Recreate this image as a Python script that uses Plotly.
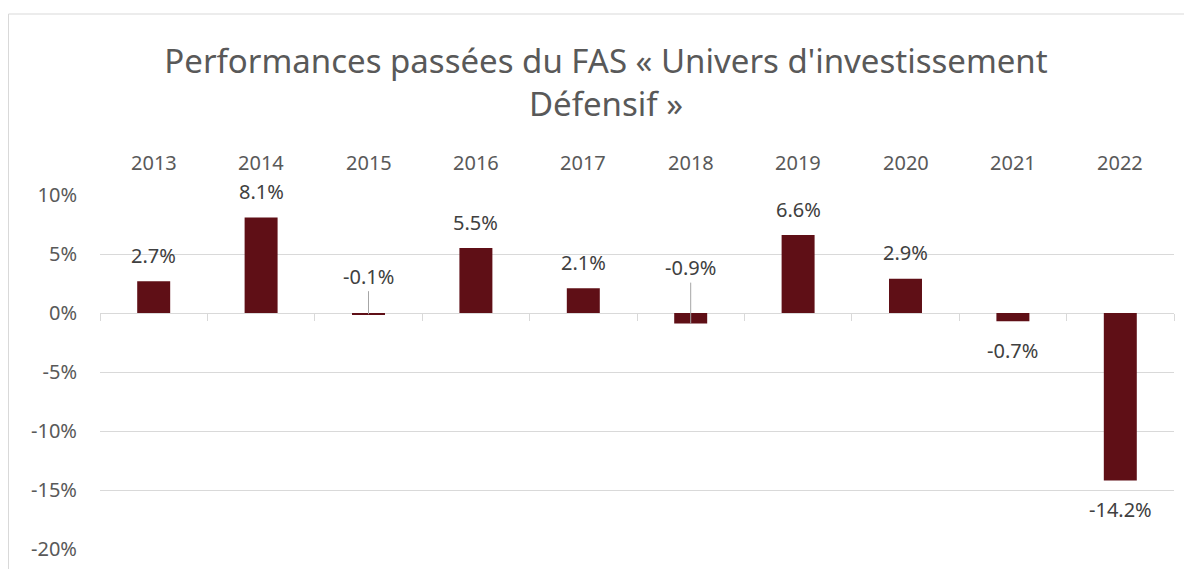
import plotly.graph_objects as go

# ---- data ----
years = ["2013", "2014", "2015", "2016", "2017", "2018", "2019", "2020", "2021", "2022"]
performance = [2.7, 8.1, -0.1, 5.5, 2.1, -0.9, 6.6, 2.9, -0.7, -14.2]
y_ticks = [-20, -15, -10, -5, 0, 5, 10]
y_tick_text = [f"{t}%" for t in y_ticks]

title_text = "Performances passées du FAS « Univers d'investissement<br>Défensif »"

# ---- styles ----
BAR = "#5F0F16"
TXT = "#595959"
LBL = "#404040"
GRID = "#D9D9D9"
FONT = "Noto Sans"

W, H = 1184, 561           # page body has an 8px margin
ML, MR, MT, MB = 92, 18, 187, 20
PW, PH = W - ML - MR, H - MT - MB

# labels moved with leader lines (pixel offsets)
leader = {"2015": -38, "2018": -56}

fig = go.Figure()
fig.add_trace(go.Bar(x=years, y=performance, marker=dict(color=BAR, line=dict(width=0)),
                     hoverinfo="skip", showlegend=False))

annotations = []
for i, (yr, v) in enumerate(zip(years, performance)):
    txt = f"{v:.1f}%"
    if yr in leader:
        annotations.append(dict(x=i, y=v, xref="x", yref="y", text=txt, showarrow=True,
                                ax=0, ay=leader[yr],
                                arrowhead=0, arrowwidth=1, arrowcolor="#A6A6A6", standoff=0,
                                font=dict(family=FONT, size=20, color=LBL)))
    else:
        annotations.append(dict(x=i, y=v, xref="x", yref="y", text=txt, showarrow=False,
                                yanchor="middle", yshift=26 if v >= 0 else -29,
                                font=dict(family=FONT, size=20, color=LBL)))
    # category label at the top ("high" label position)
    annotations.append(dict(x=i, y=1, xref="x", yref="paper", text=yr, showarrow=False,
                            yanchor="middle", yshift=33,
                            font=dict(family=FONT, size=20, color=TXT)))

fig.update_layout(
    width=W, height=H,
    margin=dict(l=ML, r=MR, t=MT, b=MB, autoexpand=False),
    paper_bgcolor="white", plot_bgcolor="white",
    bargap=0.693,
    title=dict(text=title_text, x=598 / W, xref="container", xanchor="center",
               y=1 - 65 / H, yref="container", yanchor="middle",
               font=dict(family=FONT, size=33, color=TXT)),
    xaxis=dict(type="category", categoryorder="array", categoryarray=years,
               range=[-0.5, len(years) - 0.5], autorange=False, automargin=False,
               anchor="free", position=20 / 30,
               showline=True, linecolor=GRID, linewidth=1, ticks="outside", tickson="boundaries",
               ticklen=7, tickcolor=GRID, tickwidth=1, showticklabels=False, showgrid=False,
               layer="below traces"),
    yaxis=dict(range=[-20, 10], tickvals=y_ticks, ticktext=y_tick_text, showgrid=True,
               automargin=False,
               gridcolor=GRID, gridwidth=1, zeroline=False, showline=False, ticks="outside",
               ticklen=18, tickcolor="rgba(0,0,0,0)",
               tickfont=dict(family=FONT, size=20, color=TXT)),
    annotations=annotations,
    shapes=[dict(type="rect", xref="paper", yref="paper", x0=(0.5 - ML) / PW, x1=1.05,
                 y0=-0.2, y1=1 + (MT - 6) / PH, line=dict(color=GRID, width=1), layer="below")],
)

fig.write_html("out.html")
